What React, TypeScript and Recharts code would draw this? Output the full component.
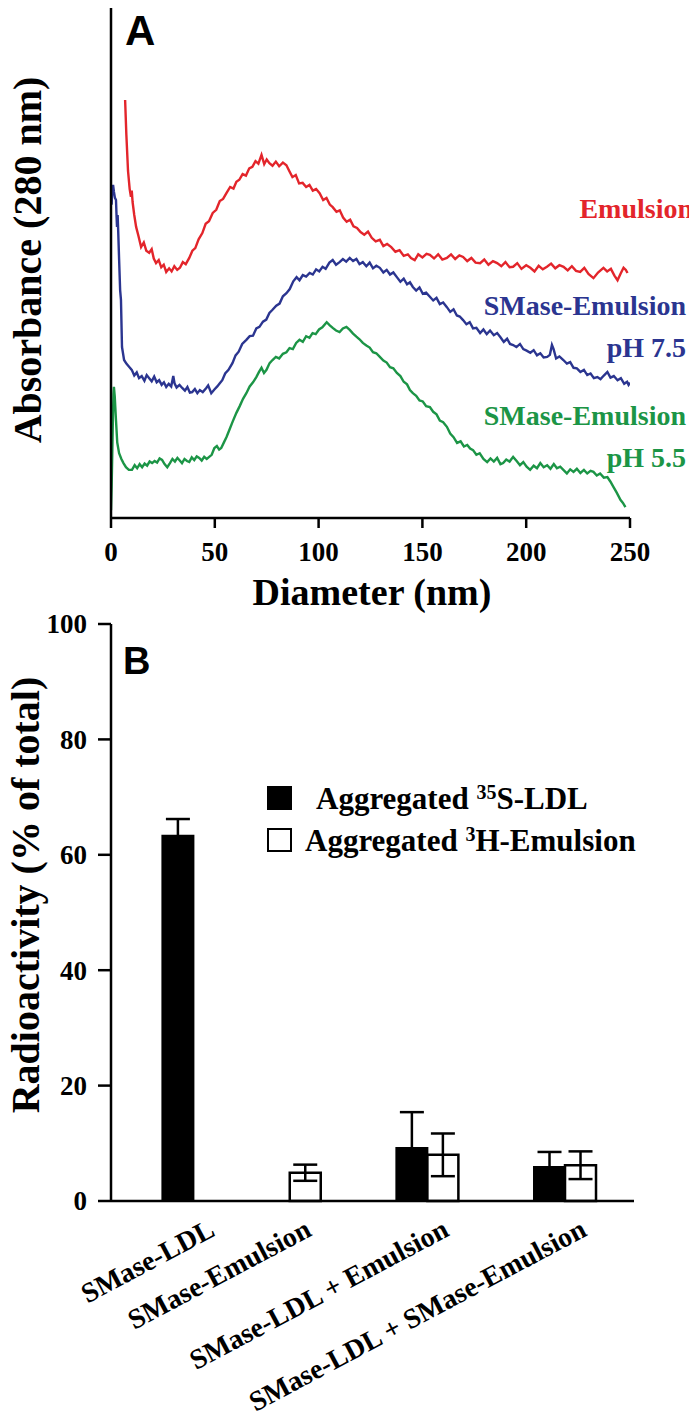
import React from 'react';
import { LineChart, Line, XAxis, YAxis, BarChart, Bar, ErrorBar, Legend } from 'recharts';

const SERIF = '"Liberation Serif", "Times New Roman", serif';
const SANS = '"Liberation Sans", Arial, sans-serif';

const RED = '#e3252b';
const BLUE = '#2b3590';
const GREEN = '#1c9546';

// Panel A: [diameter (nm), absorbance (arbitrary units)]
const emulsionTrace = [
  [6.8, 80.7], [7.4, 74], [8.2, 67], [9.0, 63.5], [9.6, 62], [10.0, 63.2], [10.4, 61], [11.2, 58.5], [12.1, 56.2],
  [13.2, 54.5], [14.5, 52.3], [15.8, 53.2], [17.0, 51.6], [18.4, 51.2], [19.6, 51.9], [20.6, 50.1], [21.7, 49.2],
  [23.0, 49.8], [24.2, 48.4], [25.4, 48.9], [26.6, 47.5], [28.0, 48.2], [29.2, 47.6], [30.5, 48.6], [31.9, 47.9],
  [33.2, 48.3], [34.6, 49.4], [36.0, 49.0], [37.7, 50.2], [39.2, 51.6], [40.6, 52.1], [42.2, 53.8], [44.0, 55.0],
  [45.6, 56.8], [47.2, 57.3], [49.0, 58.9], [50.7, 59.5], [52.4, 61.2], [54.0, 61.6], [55.6, 62.7], [57.4, 63.9],
  [59.0, 63.6], [60.4, 64.9], [61.8, 65.3], [63.4, 66.4], [65.0, 66.1], [66.6, 67.5], [68.1, 67.8], [69.6, 68.9],
  [71.0, 68.4], [72.5, 70.1], [73.8, 68.3], [75.0, 69.2], [76.3, 68.5], [77.8, 68.0], [79.4, 68.8], [81.0, 67.9],
  [82.8, 68.6], [84.5, 68.1], [86.0, 66.9], [87.4, 65.8], [89.0, 66.2], [90.6, 64.6], [92.3, 64.7], [94.0, 63.9],
  [95.6, 64.3], [97.2, 63.2], [98.8, 63.5], [100.5, 62.7], [102.2, 61.4], [103.8, 61.8], [105.4, 60.5], [106.8, 60.0],
  [108.6, 59.1], [110.2, 59.4], [111.8, 58.0], [113.5, 57.2], [115.2, 57.6], [116.8, 56.3], [118.5, 56.0], [120.2, 55.2],
  [122.0, 54.7], [123.8, 55.3], [125.6, 54.1], [127.5, 53.4], [129.5, 53.7], [131.2, 52.5], [133.0, 52.9], [135.0, 52.3],
  [137.0, 51.4], [139.0, 51.7], [141.0, 50.6], [143.0, 50.9], [144.5, 50.2], [146.3, 49.8], [148.0, 50.9], [150.0, 50.3],
  [152.0, 51.0], [153.6, 50.8], [155.6, 50.1], [157.6, 50.9], [159.6, 49.9], [161.8, 50.2], [163.8, 50.9], [165.8, 50.0],
  [167.8, 50.7], [169.6, 50.4], [171.6, 49.6], [173.6, 50.2], [175.6, 49.3], [177.8, 49.2], [179.8, 49.9], [181.8, 48.9],
  [184.0, 49.6], [186.0, 49.2], [188.0, 48.6], [190.0, 49.4], [192.0, 48.4], [193.7, 48.5], [195.7, 49.2], [197.7, 48.1],
  [200.0, 48.8], [202.0, 48.3], [204.0, 47.6], [206.0, 48.7], [208.0, 48.0], [210.0, 48.5], [212.0, 49.1], [214.0, 48.2],
  [216.0, 48.8], [218.0, 48.5], [220.0, 47.8], [222.0, 48.6], [224.0, 47.7], [226.0, 47.5], [228.0, 48.3], [230.0, 47.1],
  [232.4, 46.3], [234.6, 47.4], [237.2, 48.3], [239.0, 47.6], [240.8, 48.1], [242.5, 46.8], [244.0, 45.9], [245.5, 47.2],
  [246.9, 48.3], [248.0, 47.9], [248.8, 47.3],
];

const smasePh75Trace = [
  [0.3, 60.5], [0.6, 63.3], [1.0, 64.3], [1.4, 63.0], [1.9, 61.8], [2.4, 61.4], [2.7, 58.0], [2.9, 56.2], [3.2, 58.5],
  [3.5, 55.0], [3.9, 50.0], [4.4, 44.0], [4.8, 42.1], [5.3, 33.0], [6.3, 30.5], [7.4, 29.8], [8.7, 29.2], [10.0, 28.6],
  [11.2, 27.5], [12.4, 28.1], [13.5, 27.0], [14.8, 27.4], [16.1, 26.5], [17.2, 27.6], [18.4, 27.0], [19.6, 26.4],
  [20.8, 27.3], [22.0, 26.2], [23.2, 26.6], [24.4, 25.7], [25.5, 26.2], [26.6, 25.3], [27.8, 25.9], [29.0, 25.4],
  [30.0, 27.4], [30.6, 26.0], [31.6, 25.2], [33.0, 25.7], [34.3, 25.1], [35.6, 24.6], [36.8, 25.3], [38.0, 24.2],
  [39.1, 24.3], [40.4, 24.9], [41.6, 24.1], [42.8, 24.7], [44.2, 24.3], [45.9, 25.1], [46.8, 25.6], [48.3, 24.1],
  [49.8, 24.8], [51.2, 25.4], [52.4, 26.0], [53.6, 26.6], [55.0, 27.9], [56.6, 28.6], [58.5, 29.9], [60.0, 31.4],
  [61.5, 32.1], [63.2, 33.6], [65.2, 34.4], [66.8, 35.1], [68.4, 35.2], [70.0, 36.6], [71.5, 36.9], [73.2, 37.9],
  [74.8, 38.3], [76.3, 39.6], [77.8, 40.2], [79.6, 41.0], [81.2, 41.4], [82.8, 42.8], [84.5, 43.4], [86.1, 44.2],
  [87.8, 45.7], [89.4, 46.5], [90.8, 45.9], [92.4, 46.9], [94.0, 46.6], [95.7, 47.3], [97.2, 47.0], [98.8, 48.0],
  [100.3, 47.6], [101.9, 48.5], [103.4, 48.1], [105.2, 49.3], [106.8, 49.8], [108.4, 48.9], [110.1, 49.4], [111.7, 50.0],
  [113.3, 49.5], [115.0, 50.2], [116.6, 49.6], [118.2, 50.0], [119.7, 49.0], [121.3, 49.4], [123.0, 48.6], [124.6, 49.3],
  [126.2, 48.2], [127.8, 48.7], [129.5, 48.3], [131.2, 47.4], [132.8, 47.9], [134.4, 47.0], [136.0, 47.4], [137.7, 46.5],
  [139.4, 45.6], [141.0, 46.2], [142.6, 45.1], [144.0, 45.5], [145.4, 44.6], [147.0, 43.9], [148.6, 44.5], [150.2, 43.3],
  [151.8, 43.5], [153.6, 42.7], [155.2, 42.0], [156.8, 42.5], [158.4, 41.3], [160.0, 41.6], [161.8, 40.7], [163.4, 39.8],
  [165.0, 40.3], [166.6, 39.1], [168.0, 38.9], [169.6, 38.2], [171.2, 37.4], [172.8, 37.8], [174.4, 36.6], [176.0, 36.7],
  [177.8, 35.7], [179.4, 36.4], [181.0, 35.5], [182.6, 36.2], [184.4, 35.3], [186.0, 35.7], [187.6, 34.9], [189.2, 34.0],
  [190.8, 34.6], [192.2, 33.6], [193.7, 33.4], [195.3, 33.0], [197.0, 33.6], [198.6, 32.6], [200.2, 32.3], [202.0, 31.9],
  [203.6, 32.4], [205.2, 31.4], [206.8, 31.8], [208.4, 31.0], [210.1, 31.1], [211.4, 31.5], [212.4, 33.4], [213.2, 32.6],
  [214.4, 30.8], [216.0, 31.2], [217.9, 30.5], [219.6, 29.8], [221.2, 30.1], [222.8, 29.0], [224.4, 28.9], [226.1, 28.2],
  [227.8, 28.6], [229.4, 27.6], [231.0, 27.9], [232.6, 27.0], [234.3, 27.2], [235.8, 26.8], [237.4, 27.5], [239.1, 28.2],
  [240.6, 27.1], [242.2, 27.4], [244.0, 26.6], [245.6, 27.0], [247.2, 25.9], [248.6, 26.3], [249.3, 25.7], [250.0, 26.1],
];

const smasePh55Trace = [
  [0.0, 1.5], [0.3, 6.0], [0.6, 12.0], [0.9, 19.0], [1.2, 24.0], [1.4, 25.3], [1.8, 23.5], [2.4, 18.9], [3.0, 14.6],
  [3.9, 12.5], [5.0, 11.4], [6.0, 10.6], [7.2, 9.8], [8.6, 9.3], [10.1, 9.3], [11.4, 10.2], [12.6, 9.6], [13.8, 10.4],
  [15.0, 9.8], [16.2, 10.5], [17.4, 10.1], [18.6, 10.9], [19.8, 10.6], [21.0, 11.0], [22.2, 10.7], [23.4, 11.5],
  [24.6, 11.2], [25.8, 10.4], [27.1, 9.8], [28.4, 10.6], [29.6, 11.4], [30.8, 10.9], [32.0, 11.6], [32.9, 11.2],
  [34.2, 10.6], [35.4, 11.4], [36.6, 11.0], [37.7, 10.8], [38.9, 11.7], [40.1, 11.2], [41.3, 11.9], [42.5, 11.6],
  [43.7, 11.1], [44.9, 11.8], [46.1, 11.4], [47.3, 11.8], [48.5, 12.2], [49.8, 13.5], [51.0, 13.9], [52.1, 13.2],
  [53.1, 13.5], [54.4, 14.6], [55.6, 15.6], [57.0, 17.0], [58.6, 18.6], [60.4, 20.3], [62.0, 21.6], [63.6, 23.0],
  [65.2, 24.1], [66.8, 25.4], [68.4, 26.2], [70.0, 27.2], [71.3, 28.2], [72.5, 29.0], [73.7, 28.0], [74.9, 28.6],
  [76.4, 29.9], [77.8, 30.5], [79.4, 31.1], [81.0, 30.8], [82.8, 31.7], [84.5, 32.0], [86.0, 32.8], [87.6, 32.6],
  [89.2, 33.8], [90.8, 34.4], [92.4, 34.0], [94.0, 35.1], [95.6, 34.8], [97.1, 35.7], [98.6, 35.5], [100.2, 36.4],
  [101.8, 36.8], [103.9, 37.8], [105.4, 37.2], [106.8, 36.7], [108.4, 36.2], [110.1, 35.9], [111.7, 36.6], [113.4, 36.9],
  [115.0, 36.3], [116.6, 35.6], [118.2, 35.0], [119.7, 34.5], [121.3, 33.8], [123.0, 33.3], [124.6, 32.9], [126.2, 32.0],
  [127.8, 31.8], [129.5, 31.1], [131.2, 30.4], [132.8, 30.0], [134.4, 29.1], [136.0, 28.9], [137.7, 28.0], [139.4, 27.4],
  [141.0, 26.3], [142.6, 25.8], [144.0, 24.7], [145.4, 24.1], [147.0, 23.6], [148.6, 22.7], [150.2, 22.5], [151.8, 21.6],
  [153.6, 21.4], [155.2, 20.5], [156.8, 20.0], [158.4, 18.8], [160.0, 18.5], [161.8, 17.6], [163.4, 16.3], [165.0, 15.6],
  [166.7, 14.5], [168.4, 14.8], [170.0, 13.8], [171.6, 14.1], [173.0, 13.4], [174.4, 13.1], [176.0, 12.2], [177.6, 12.5],
  [179.4, 11.4], [181.2, 10.8], [182.8, 11.5], [184.4, 10.9], [186.0, 11.6], [187.6, 10.4], [188.9, 10.6], [190.4, 11.3],
  [192.0, 10.9], [193.7, 11.8], [195.4, 11.0], [197.0, 10.2], [198.6, 10.8], [200.2, 9.9], [201.9, 9.3], [203.6, 10.1],
  [205.2, 9.6], [206.8, 10.6], [208.4, 9.8], [210.1, 10.2], [211.7, 9.5], [213.3, 10.4], [214.8, 9.6], [216.4, 9.9],
  [217.9, 9.3], [219.6, 8.6], [221.2, 9.4], [222.8, 8.9], [224.4, 9.5], [226.1, 8.7], [227.8, 9.3], [229.4, 8.6],
  [231.0, 9.1], [232.4, 8.9], [234.0, 8.2], [235.6, 8.6], [237.4, 7.8], [239.1, 7.9], [240.6, 7.0], [242.0, 6.0],
  [243.6, 4.9], [245.4, 3.5], [246.6, 2.9], [247.8, 2.1],
];

const diameterTicks = [0, 50, 100, 150, 200, 250];

// Panel B
const categories = ['SMase-LDL', 'SMase-Emulsion', 'SMase-LDL + Emulsion', 'SMase-LDL + SMase-Emulsion'];
const groupPos = [1.3, 2, 3, 4];
const ldlValues = [63.3, null, 9.2, 5.9];
const ldlErrors = [2.9, null, 6.2, 2.6];
const emulsionValues = [null, 4.9, 8.0, 6.2];
const emulsionErrors = [null, 1.4, 3.7, 2.4];
const radioTicks = [0, 20, 40, 60, 80, 100];
const groupTicks = [1, 1.5, 2.5, 3.5, 4.5];

const toPoints = (trace: number[][]) => trace.map(([d, a]) => ({ d, a }));

const barData = categories.map((name, i) => ({
  name,
  pos: groupPos[i],
  ldl: ldlValues[i],
  ldlErr: ldlErrors[i],
  emu: emulsionValues[i],
  emuErr: emulsionErrors[i],
}));

const BottomTick = (props: any) => (
  <text x={props.x} y={props.y} dy="0.71em" textAnchor="middle" fontFamily={SERIF} fontWeight="bold" fontSize={27} fill="#000">
    {props.payload.value}
  </text>
);

const LeftTick = (props: any) => (
  <text x={props.x} y={props.y} dy="0.35em" textAnchor="end" fontFamily={SERIF} fontWeight="bold" fontSize={27} fill="#000">
    {props.payload.value}
  </text>
);

const NameTick = (props: any) => {
  const { x, y, payload } = props;
  const idx = groupPos.indexOf(payload.value);
  const tx = x + 23;
  const ty = y + 24;
  return (
    <text
      x={tx}
      y={ty}
      transform={`rotate(-28, ${tx}, ${ty})`}
      textAnchor="end"
      fontFamily={SERIF}
      fontWeight="bold"
      fontSize={28}
      fill="#000"
    >
      {categories[idx]}
    </text>
  );
};

const sup: React.CSSProperties = { fontSize: 20, position: 'relative', top: -10 };

const renderLegend = () => (
  <div style={{ fontFamily: SERIF, fontWeight: 'bold', fontSize: 31, color: '#000', whiteSpace: 'nowrap', lineHeight: 1 }}>
    <div style={{ display: 'flex', alignItems: 'center', height: 42 }}>
      <span style={{ display: 'inline-block', width: 25, height: 24, background: '#000' }} />
      <span style={{ marginLeft: 24 }}>
        Aggregated <span style={sup}>35</span>S-LDL
      </span>
    </div>
    <div style={{ display: 'flex', alignItems: 'center', height: 42 }}>
      <span style={{ display: 'inline-block', width: 25, height: 24, border: '2px solid #000', boxSizing: 'border-box', background: '#fff' }} />
      <span style={{ marginLeft: 13 }}>
        Aggregated <span style={sup}>3</span>H-Emulsion
      </span>
    </div>
  </div>
);

const abs = (style: React.CSSProperties): React.CSSProperties => ({ position: 'absolute', ...style });

const rotatedTitle = (cx: number, cy: number, size: number): React.CSSProperties =>
  abs({
    left: cx,
    top: cy,
    transform: 'translate(-50%, -50%) rotate(-90deg)',
    fontFamily: SERIF,
    fontWeight: 'bold',
    fontSize: size,
    whiteSpace: 'nowrap',
    lineHeight: 1,
  });

const note = (right: number, top: number, color: string): React.CSSProperties =>
  abs({ right, top, fontFamily: SERIF, fontWeight: 'bold', fontSize: 28, lineHeight: '42px', color, textAlign: 'right', whiteSpace: 'nowrap' });

export default function App() {
  return (
    <div style={{ position: 'relative', width: 697, height: 1420, margin: '-8px 0 0 -8px', background: '#fff', color: '#000', fontFamily: SERIF }}>
      {/* Panel A */}
      <div style={abs({ left: 0, top: 0 })}>
        <LineChart width={697} height={620} margin={{ top: 0, right: 67, bottom: 0, left: 0 }}>
          <XAxis
            dataKey="d"
            type="number"
            domain={[0, 250]}
            ticks={diameterTicks}
            allowDataOverflow
            interval={0}
            height={102}
            tickSize={10}
            tickMargin={14}
            axisLine={{ stroke: '#000', strokeWidth: 2.5 }}
            tickLine={{ stroke: '#000', strokeWidth: 2.5 }}
            tick={<BottomTick />}
          />
          <YAxis
            type="number"
            domain={[0, 100]}
            width={111}
            tick={false}
            tickLine={false}
            axisLine={{ stroke: '#000', strokeWidth: 2.5 }}
          />
          <Line data={toPoints(emulsionTrace)} dataKey="a" stroke={RED} strokeWidth={2.4} dot={false} isAnimationActive={false} />
          <Line data={toPoints(smasePh75Trace)} dataKey="a" stroke={BLUE} strokeWidth={2.4} dot={false} isAnimationActive={false} />
          <Line data={toPoints(smasePh55Trace)} dataKey="a" stroke={GREEN} strokeWidth={2.4} dot={false} isAnimationActive={false} />
        </LineChart>
      </div>

      <div style={abs({ left: 125, top: 10, fontFamily: SANS, fontWeight: 'bold', fontSize: 42, lineHeight: 1 })}>A</div>
      <div style={rotatedTitle(28, 260, 40)}>Absorbance (280 nm)</div>
      <div style={abs({ left: 372, top: 592, transform: 'translate(-50%, -50%)', fontFamily: SERIF, fontWeight: 'bold', fontSize: 38, lineHeight: 1, whiteSpace: 'nowrap' })}>
        Diameter (nm)
      </div>

      <div style={note(4, 188, RED)}>Emulsion</div>
      <div style={note(11, 285, BLUE)}>
        SMase-Emulsion<br />pH 7.5
      </div>
      <div style={note(11, 395, GREEN)}>
        SMase-Emulsion<br />pH 5.5
      </div>

      {/* Panel B */}
      <div style={abs({ left: 0, top: 590 })}>
        <BarChart width={697} height={830} data={barData} barGap={0} margin={{ top: 34, right: 63, bottom: 0, left: 0 }}>
          <XAxis
            dataKey="pos"
            type="number"
            domain={[0.7, 4.5]}
            ticks={groupTicks}
            allowDataOverflow
            interval={0}
            height={10}
            tickSize={4}
            tick={false}
            axisLine={{ stroke: '#000', strokeWidth: 2.5 }}
            tickLine={{ stroke: '#000', strokeWidth: 2 }}
          />
          <XAxis
            xAxisId="names"
            dataKey="pos"
            type="number"
            domain={[0.7, 4.5]}
            ticks={groupPos}
            allowDataOverflow
            interval={0}
            height={209}
            tickSize={0}
            tickMargin={0}
            axisLine={false}
            tickLine={false}
            tick={<NameTick />}
          />
          <YAxis
            type="number"
            domain={[0, 100]}
            ticks={radioTicks}
            interval={0}
            width={111}
            tickSize={13}
            tickMargin={11}
            axisLine={{ stroke: '#000', strokeWidth: 2.5 }}
            tickLine={{ stroke: '#000', strokeWidth: 2.5 }}
            tick={<LeftTick />}
          />
          <Legend
            layout="vertical"
            align="center"
            verticalAlign="middle"
            content={renderLegend}
            wrapperStyle={{ top: 187, left: 267, width: 'auto' }}
          />
          <Bar dataKey="ldl" fill="#000" stroke="#000" strokeWidth={2} barSize={31} isAnimationActive={false}>
            <ErrorBar dataKey="ldlErr" width={12} stroke="#000" strokeWidth={2.5} direction="y" />
          </Bar>
          <Bar dataKey="emu" fill="#fff" stroke="#000" strokeWidth={2.5} barSize={31} isAnimationActive={false}>
            <ErrorBar dataKey="emuErr" width={12} stroke="#000" strokeWidth={2.5} direction="y" />
          </Bar>
        </BarChart>
      </div>

      <div style={abs({ left: 123, top: 642, fontFamily: SANS, fontWeight: 'bold', fontSize: 38, lineHeight: 1 })}>B</div>
      <div style={rotatedTitle(26, 895, 40)}>Radioactivity (% of total)</div>
    </div>
  );
}
